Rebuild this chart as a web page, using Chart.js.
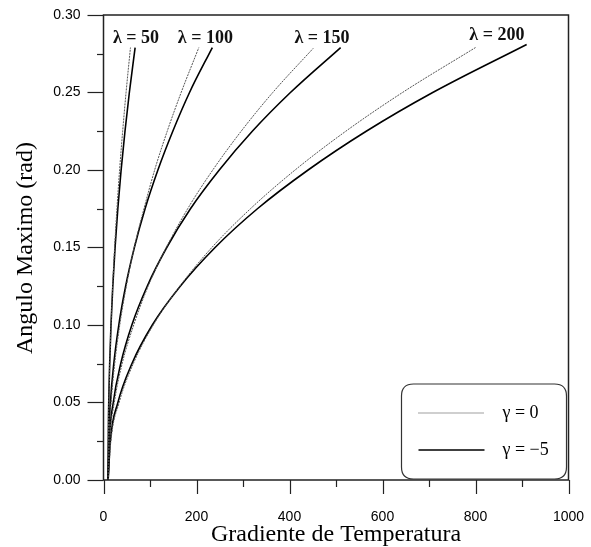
<!DOCTYPE html>
<html>
<head>
<meta charset="utf-8">
<script src="https://cdn.jsdelivr.net/npm/chart.js@4/dist/chart.umd.min.js"></script>
<style>
html,body{margin:0;padding:0;background:#fff;}
#c{display:block;}
</style>
</head>
<body>
<canvas id="c" width="591" height="547"></canvas>
<script>
// ---- data ----
const angleLevels = [0, 0.025, 0.05, 0.075, 0.10, 0.125, 0.15, 0.175, 0.20, 0.225, 0.25];

const l50_g0_x  = [10, 10.4, 11.5, 13.5, 16.2, 19.6, 23.9, 28.9, 34.6, 41.2, 48.5, 58];
const l50_g0_y  = angleLevels.concat([0.279]);
const l50_g5_x  = [10, 10.3, 11.3, 13.3, 16.1, 20.0, 24.9, 30.8, 37.9, 46.2, 55.6, 68];
const l50_g5_y  = angleLevels.concat([0.279]);

const l100_g0_x = [10, 11.6, 16.3, 24.1, 35, 49, 66, 87, 110, 137, 167, 205];
const l100_g0_y = angleLevels.concat([0.279]);
const l100_g5_x = [10, 11.1, 14.9, 22.1, 32.9, 47.6, 66.4, 89.4, 117, 149, 185, 234];
const l100_g5_y = angleLevels.concat([0.279]);

const l150_g0_x = [10, 13.2, 23.3, 40, 65, 96, 135, 181, 235, 296, 364, 451];
const l150_g0_y = angleLevels.concat([0.2785]);
const l150_g5_x = [10, 12.4, 21, 37, 61, 94, 136, 187, 249, 320, 402, 510];
const l150_g5_y = angleLevels.concat([0.279]);

const l200_g0_x = [10, 15.8, 33.7, 64, 107, 164, 233, 316, 412, 521, 643, 800];
const l200_g0_y = angleLevels.concat([0.279]);
const l200_g5_x = [10, 14.7, 31, 61, 105, 165, 240, 331, 440, 565, 708, 910];
const l200_g5_y = angleLevels.concat([0.281]);

const lambdaLabels = ['\u03bb = 50', '\u03bb = 100', '\u03bb = 150', '\u03bb = 200'];
const lambdaLabelX = [70, 219, 470, 846];
const lambdaLabelY = [0.285, 0.285, 0.285, 0.287];

const legendLabels = ['\u03b3 = 0', '\u03b3 = \u22125'];
const xTitle = 'Gradiente de Temperatura';
const yTitle = 'Angulo Maximo (rad)';

// ---- build ----
function pts(xs, ys){ return xs.map((x,i)=>({x:x, y:ys[i]})); }
const dotted = {borderColor:'#555', borderWidth:1, borderDash:[2,1]};
const solid  = {borderColor:'#000', borderWidth:1.6, borderDash:[]};
const seriesDefs = [
  [l50_g0_x, l50_g0_y, dotted], [l50_g5_x, l50_g5_y, solid],
  [l100_g0_x, l100_g0_y, dotted], [l100_g5_x, l100_g5_y, solid],
  [l150_g0_x, l150_g0_y, dotted], [l150_g5_x, l150_g5_y, solid],
  [l200_g0_x, l200_g0_y, dotted], [l200_g5_x, l200_g5_y, solid]
];
const datasets = seriesDefs.map(d => Object.assign({
  data: pts(d[0], d[1]), showLine:true, pointRadius:0, fill:false,
  cubicInterpolationMode:'monotone'
}, d[2]));

const decor = {
  id:'decor',
  afterDraw(chart){
    const ctx = chart.ctx, ca = chart.chartArea, xs = chart.scales.x, ys = chart.scales.y;
    ctx.save();
    // frame
    ctx.strokeStyle = '#222'; ctx.lineWidth = 1.5;
    ctx.strokeRect(ca.left, ca.top, ca.right - ca.left, ca.bottom - ca.top);
    // y ticks
    ctx.lineWidth = 1.2; ctx.strokeStyle = '#222';
    for (let i = 0; i <= 12; i++){
      const py = Math.round(ys.getPixelForValue(i*0.025)) + 0.5;
      const len = (i % 2 === 0) ? 16 : 6.5;
      ctx.beginPath(); ctx.moveTo(ca.left - len, py); ctx.lineTo(ca.left, py); ctx.stroke();
    }
    // x ticks
    for (let i = 0; i <= 10; i++){
      const px = Math.round(xs.getPixelForValue(i*100)) + 0.5;
      const len = (i % 2 === 0) ? 14 : 7;
      ctx.beginPath(); ctx.moveTo(px, ca.bottom); ctx.lineTo(px, ca.bottom + len); ctx.stroke();
    }
    // lambda labels
    ctx.fillStyle = '#111';
    ctx.font = 'bold 18px "Liberation Serif", "Times New Roman", serif';
    ctx.textAlign = 'center'; ctx.textBaseline = 'middle';
    lambdaLabels.forEach((t,i)=>{
      ctx.fillText(t, xs.getPixelForValue(lambdaLabelX[i]), ys.getPixelForValue(lambdaLabelY[i]));
    });
    // legend box
    const lx0 = ca.right - 167, lx1 = ca.right - 2, ly0 = ca.bottom - 96, ly1 = ca.bottom - 1;
    const r = 12;
    ctx.beginPath();
    ctx.moveTo(lx0 + r, ly0); ctx.lineTo(lx1 - r, ly0); ctx.quadraticCurveTo(lx1, ly0, lx1, ly0 + r);
    ctx.lineTo(lx1, ly1 - r); ctx.quadraticCurveTo(lx1, ly1, lx1 - r, ly1);
    ctx.lineTo(lx0 + r, ly1); ctx.quadraticCurveTo(lx0, ly1, lx0, ly1 - r);
    ctx.lineTo(lx0, ly0 + r); ctx.quadraticCurveTo(lx0, ly0, lx0 + r, ly0);
    ctx.closePath();
    ctx.fillStyle = '#fff'; ctx.fill();
    ctx.strokeStyle = '#333'; ctx.lineWidth = 1.2; ctx.stroke();
    const rowY = [ly0 + 29, ly0 + 66];
    ctx.font = '18px "Liberation Serif", "Times New Roman", serif';
    ctx.textAlign = 'left';
    rowY.forEach((yy,i)=>{
      ctx.beginPath();
      ctx.strokeStyle = i === 0 ? '#777' : '#000';
      ctx.lineWidth = i === 0 ? 1.4 : 1.6;
      ctx.setLineDash(i === 0 ? [1,1] : []);
      ctx.moveTo(lx0 + 17, yy); ctx.lineTo(lx0 + 83, yy); ctx.stroke();
      ctx.setLineDash([]);
      ctx.fillStyle = '#000';
      ctx.fillText(legendLabels[i], lx0 + 101, yy);
    });
    // axis titles
    ctx.fillStyle = '#000';
    ctx.font = '24px "Liberation Serif", "Times New Roman", serif';
    ctx.textAlign = 'center'; ctx.textBaseline = 'alphabetic';
    ctx.fillText(xTitle, 336, 541);
    ctx.translate(32, 248);
    ctx.rotate(-Math.PI/2);
    ctx.fillText(yTitle, 0, 0);
    ctx.restore();
  }
};

function zeroPad(s){ s.paddingTop = 0; s.paddingBottom = 0; s.paddingLeft = 0; s.paddingRight = 0; }

new Chart(document.getElementById('c'), {
  type:'scatter',
  data:{datasets},
  options:{
    responsive:false, animation:false,
    layout:{padding:{left:0, right:22.5, top:15, bottom:0}},
    plugins:{legend:{display:false}, tooltip:{enabled:false}},
    scales:{
      x:{type:'linear', min:0, max:1000,
         grid:{display:false, drawTicks:false}, border:{display:false},
         ticks:{stepSize:200, padding:29, color:'#000', maxRotation:0,
                font:{family:'"Liberation Sans", Arial, sans-serif', size:14},
                callback:(v)=>String(v)},
         afterFit(s){ s.height = 67; zeroPad(s); }},
      y:{type:'linear', min:0, max:0.30,
         grid:{display:false, drawTicks:false}, border:{display:false},
         ticks:{stepSize:0.05, padding:23, color:'#000',
                font:{family:'"Liberation Sans", Arial, sans-serif', size:14},
                callback:(v)=>v.toFixed(2)},
         afterFit(s){ s.width = 103.5; zeroPad(s); }}
    }
  },
  plugins:[decor]
});
</script>
</body>
</html>
